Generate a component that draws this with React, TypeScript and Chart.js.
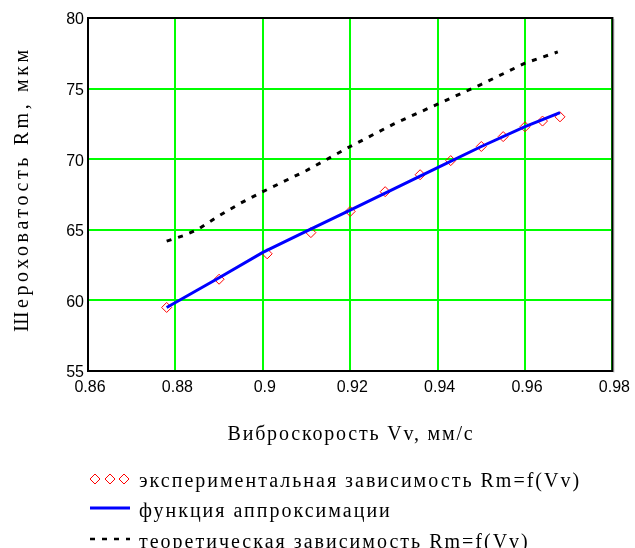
import React, { useEffect, useRef } from "react";
import { Chart, registerables } from "chart.js";

Chart.register(...registerables);

// Experimental points
const vExp = [0.878, 0.89, 0.901, 0.911, 0.92, 0.928, 0.936, 0.943, 0.95, 0.955, 0.96, 0.964, 0.968];
const rmExp = [59.5, 61.5, 63.3, 64.8, 66.3, 67.7, 68.9, 69.9, 70.9, 71.6, 72.3, 72.7, 73.0];

// Approximation function
const vFit = [0.878, 0.89, 0.9, 0.91, 0.92, 0.93, 0.94, 0.95, 0.96, 0.968];
const rmFit = [59.5, 61.6, 63.4, 64.9, 66.4, 67.9, 69.4, 70.9, 72.3, 73.3];

// Theoretical dependence
const vTheo = [0.878, 0.882, 0.885, 0.89, 0.895, 0.9, 0.91, 0.92, 0.93, 0.94, 0.95, 0.96, 0.9675];
const rmTheo = [64.2, 64.6, 65.0, 66.0, 66.9, 67.7, 69.2, 70.9, 72.5, 73.9, 75.3, 76.8, 77.6];

const seriesLabels = [
  "экспериментальная зависимость Rm=f(Vv)",
  "функция аппроксимации",
  "теоретическая зависимость Rm=f(Vv)",
];
const xTitle = "Виброскорость Vv, мм/с";
const yTitle = "Шероховатость Rm, мкм";

const xMin = 0.86, xMax = 0.98, xStep = 0.02;
const yMin = 55, yMax = 80, yStep = 5;

const toPts = (xs: number[], ys: number[]) => xs.map((x, i) => ({ x, y: ys[i] }));

const serif = '"Liberation Serif", "Times New Roman", serif';

const decor = {
  id: "decor",
  afterDraw(chart: any) {
    const { ctx, chartArea: a } = chart;
    ctx.save();
    // plot frame
    ctx.strokeStyle = "#000";
    ctx.lineWidth = 2;
    ctx.strokeRect(a.left, a.top, a.right - a.left, a.bottom - a.top);
    ctx.strokeStyle = "rgba(0,0,0,0.25)";
    ctx.lineWidth = 1;
    ctx.beginPath();
    ctx.moveTo(a.right + 1.5, a.top + 1);
    ctx.lineTo(a.right + 1.5, a.bottom + 1.5);
    ctx.stroke();

    // axis titles
    ctx.fillStyle = "#000";
    ctx.font = `20px ${serif}`;
    ctx.textAlign = "center";
    ctx.textBaseline = "alphabetic";
    ctx.letterSpacing = "1.8px";
    ctx.fillText(xTitle, 351, 440);
    ctx.save();
    ctx.letterSpacing = "3.6px";
    ctx.translate(28, 189);
    ctx.rotate(-Math.PI / 2);
    ctx.fillText(yTitle, 0, 0);
    ctx.restore();

    // legend
    const ds = chart.data.datasets;
    const rows = [
      { sy: 479, ty: 486.5 },
      { sy: 508, ty: 517 },
      { sy: 539, ty: 547.5 },
    ];
    ctx.textAlign = "left";
    ctx.font = `20px ${serif}`;
    ctx.letterSpacing = "2px";
    ds.forEach((d: any, i: number) => {
      const r = rows[i];
      if (i === 0) {
        ctx.strokeStyle = d.borderColor;
        ctx.lineWidth = 1;
        [95, 110, 124].forEach((cx) => {
          ctx.beginPath();
          ctx.moveTo(cx, r.sy - 5);
          ctx.lineTo(cx + 5, r.sy);
          ctx.lineTo(cx, r.sy + 5);
          ctx.lineTo(cx - 5, r.sy);
          ctx.closePath();
          ctx.stroke();
        });
      } else {
        ctx.strokeStyle = d.borderColor;
        ctx.lineWidth = i === 1 ? 3 : 2.5;
        ctx.setLineDash(d.borderDash || []);
        ctx.beginPath();
        ctx.moveTo(90, r.sy);
        ctx.lineTo(130, r.sy);
        ctx.stroke();
        ctx.setLineDash([]);
      }
      ctx.fillStyle = "#000";
      ctx.fillText(d.label, 139, r.ty);
    });
    ctx.restore();
  },
};

export default function App() {
  const ref = useRef<HTMLCanvasElement>(null);
  useEffect(() => {
    if (!ref.current) return;
    const chart = new Chart(ref.current, {
      type: "scatter",
      data: {
        datasets: [
          {
            label: seriesLabels[0],
            data: toPts(vExp, rmExp),
            showLine: false,
            pointStyle: "rectRot",
            pointRadius: 5,
            pointBorderWidth: 1,
            borderColor: "#ff0000",
            backgroundColor: "rgba(0,0,0,0)",
            order: 3,
          },
          {
            label: seriesLabels[1],
            data: toPts(vFit, rmFit),
            showLine: true,
            pointRadius: 0,
            borderWidth: 3,
            borderColor: "#0000ff",
            backgroundColor: "#0000ff",
            order: 1,
          },
          {
            label: seriesLabels[2],
            data: toPts(vTheo, rmTheo),
            showLine: true,
            pointRadius: 0,
            borderWidth: 3,
            borderDash: [5, 7],
            borderCapStyle: "butt",
            borderColor: "#000000",
            backgroundColor: "#000000",
            order: 2,
          },
        ],
      },
      options: {
        responsive: false,
        animation: false,
        events: [],
        layout: { padding: { left: 0, right: 19, top: 18, bottom: 0 } },
        plugins: { legend: { display: false }, tooltip: { enabled: false }, title: { display: false } },
        scales: {
          x: {
            type: "linear",
            min: xMin,
            max: xMax,
            afterFit: (s: any) => { s.height = 177; },
            ticks: {
              stepSize: xStep,
              color: "#000",
              padding: 7,
              labelOffset: 2,
              maxRotation: 0,
              font: { family: '"Liberation Sans", Arial, sans-serif', size: 16 },
              callback: (v: any) => String(Number(Number(v).toFixed(2))),
            },
            grid: { color: "#00ff00", lineWidth: 2, drawTicks: false },
            border: { display: false },
          },
          y: {
            type: "linear",
            min: yMin,
            max: yMax,
            afterFit: (s: any) => { s.width = 88; },
            ticks: {
              stepSize: yStep,
              color: "#000",
              padding: 4,
              labelOffset: 2,
              font: { family: '"Liberation Sans", Arial, sans-serif', size: 16 },
            },
            grid: { color: "#00ff00", lineWidth: 2, drawTicks: false },
            border: { display: false },
          },
        },
      },
      plugins: [decor],
    });
    return () => chart.destroy();
  }, []);
  return (
    <div style={{ position: "fixed", left: 0, top: 0, width: 635, height: 548, background: "#fff" }}>
      <canvas ref={ref} width={635} height={548} />
    </div>
  );
}
